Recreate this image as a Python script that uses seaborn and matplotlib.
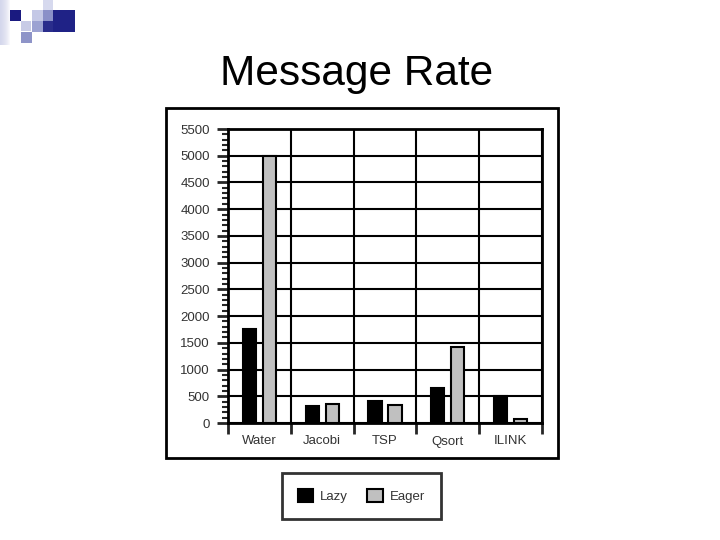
import matplotlib
matplotlib.use("Agg")
import matplotlib.pyplot as plt
from matplotlib.patches import Rectangle
from matplotlib.ticker import MultipleLocator, FixedLocator, NullFormatter
import seaborn as sns
import pandas as pd
import numpy as np

categories = ["Water", "Jacobi", "TSP", "Qsort", "ILINK"]
lazy = [1750, 325, 420, 660, 510]
eager = [5000, 360, 340, 1420, 75]
series = ["Lazy", "Eager"]
yticks = list(range(0, 5501, 500))

df = pd.DataFrame({
    "benchmark": categories * 2,
    "rate": lazy + eager,
    "mode": [series[0]] * len(categories) + [series[1]] * len(categories),
})

sns.set_theme(style="white")
plt.rcParams["font.family"] = ["Liberation Sans", "DejaVu Sans"]

fig = plt.figure(figsize=(7.2, 5.4), dpi=100)

# slide decoration (top-left squares)
def frect(x, y, w, h, color, alpha=1.0):
    fig.add_artist(Rectangle((x / 720, 1 - (y + h) / 540), w / 720, h / 540,
                             transform=fig.transFigure, facecolor=color,
                             edgecolor="none", alpha=alpha, zorder=0))

for i in range(10):
    frect(0, 0, 10 - i, 45, "#c8cce8", 0.12)
frect(10, 10, 11, 11, "#1a1a80")
frect(21, 21, 10, 10, "#c8cbe6")
frect(32, 10, 11, 11, "#c4c8e6")
frect(43, 0, 10, 10, "#d6d9ee")
frect(43, 10, 10, 11, "#8a90c8")
frect(53, 10, 22, 22, "#1f2286")
frect(43, 21, 10, 11, "#2a2d8c")
frect(32, 21, 11, 11, "#9ca2d2")
frect(21, 32, 11, 11, "#8e94c8")

# outer frame box
fig.add_artist(Rectangle((166 / 720, 1 - 458 / 540), (558 - 166) / 720, (458 - 108) / 540,
                         transform=fig.transFigure, facecolor="none",
                         edgecolor="black", linewidth=2, zorder=1))

ax = fig.add_axes([228 / 720, 1 - 423 / 540, (542 - 228) / 720, (423 - 129) / 540])

sns.barplot(data=df, x="benchmark", y="rate", hue="mode", order=categories,
            hue_order=series, palette=["#000000", "#c0c0c0"],
            width=0.64, gap=0.34, edgecolor="black", linewidth=1.5,
            saturation=1, ax=ax, legend=True, zorder=3)

ax.set_xlim(-0.5, len(categories) - 0.5)
ax.set_ylim(0, 5500)
ax.set_xlabel("")
ax.set_ylabel("")

# y axis
ax.yaxis.set_major_locator(FixedLocator(yticks))
ax.yaxis.set_minor_locator(MultipleLocator(100))
ax.tick_params(axis="y", which="major", direction="out", length=8, width=2,
               labelsize=9.5, labelcolor="#333333", pad=5, left=True)
ax.tick_params(axis="y", which="minor", direction="out", length=4, width=1.5,
               left=True)

# x axis: boundary ticks as major, labels at centres as minor
bounds = [i - 0.5 for i in range(len(categories) + 1)]
ax.xaxis.set_major_locator(FixedLocator(bounds))
ax.xaxis.set_major_formatter(NullFormatter())
ax.xaxis.set_minor_locator(FixedLocator(list(range(len(categories)))))
ax.set_xticklabels(categories, minor=True)
ax.tick_params(axis="x", which="major", direction="out", length=8, width=2,
               bottom=True)
ax.tick_params(axis="x", which="minor", length=0, labelsize=9.5,
               labelcolor="#333333", pad=9)

ax.grid(True, which="major", axis="both", color="black", linewidth=1.5, zorder=0)
ax.set_axisbelow(True)
for s in ax.spines.values():
    s.set_color("black")
    s.set_linewidth(2)

# legend
handles, labels = ax.get_legend_handles_labels()
ax.get_legend().remove()
leg = fig.legend(handles, labels, loc="center",
                 bbox_to_anchor=((283 + 440) / 2 / 720, 1 - (472 + 520) / 2 / 540),
                 ncol=2, frameon=True, fancybox=False, fontsize=9.5,
                 handlelength=1.15, handleheight=1.1, columnspacing=1.45,
                 handletextpad=0.55, borderpad=1.2, borderaxespad=0)
leg.get_frame().set_edgecolor("black")
leg.get_frame().set_linewidth(2)
for t in leg.get_texts():
    t.set_color("#333333")

fig.text(357 / 720, 1 - 74 / 540, "Message Rate", ha="center", va="center",
         fontsize=30.5, color="black")

fig.savefig("out.png", dpi=100)
